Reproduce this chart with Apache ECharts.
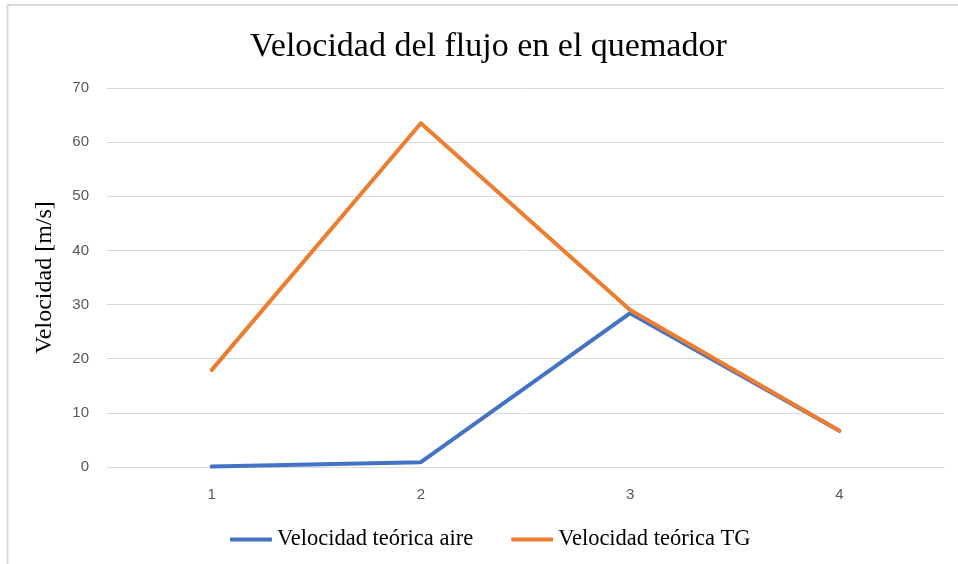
<!DOCTYPE html>
<html>
<head>
<meta charset="utf-8">
<script src="https://cdn.jsdelivr.net/npm/echarts@6/dist/echarts.min.js"></script>
<style>
html,body{margin:0;padding:0;background:#fff;}
#chart{width:958px;height:564px;}
</style>
</head>
<body>
<div id="chart"></div>
<script>
const categories = ['1', '2', '3', '4'];
const aire = [0.1, 0.9, 28.4, 6.7];
const tg = [17.9, 63.5, 29.0, 6.7];
const yTicks = [0, 10, 20, 30, 40, 50, 60, 70];

const chart = echarts.init(document.getElementById('chart'), null, {renderer: 'canvas'});
chart.setOption({
  animation: false,
  backgroundColor: '#fff',
  graphic: [
    {type: 'line', shape: {x1: 7.5, y1: 5, x2: 7.5, y2: 564}, style: {stroke: '#d9d9d9', lineWidth: 2}, silent: true},
    {type: 'line', shape: {x1: 7, y1: 5, x2: 958, y2: 5}, style: {stroke: '#d9d9d9', lineWidth: 2}, silent: true}
  ],
  title: {
    text: 'Velocidad del flujo en el quemador',
    left: 245,
    top: 25,
    textStyle: {fontFamily: 'Liberation Serif', fontWeight: 'normal', fontSize: 34, color: '#000'}
  },
  legend: {
    bottom: 8,
    left: 225,
    itemWidth: 42,
    itemHeight: 4,
    itemGap: 38,
    icon: 'roundRect',
    textStyle: {fontFamily: 'Liberation Serif', fontSize: 22.5, color: '#000', padding: [0,0,0,0]},
    data: ['Velocidad teórica aire', 'Velocidad teórica TG']
  },
  grid: {left: 107, right: 14, top: 88, bottom: 97},
  xAxis: {
    type: 'category',
    data: categories,
    boundaryGap: true,
    axisLine: {show: true, lineStyle: {color: '#d9d9d9', width: 1}},
    axisTick: {show: false},
    axisLabel: {color: '#595959', fontSize: 15, fontFamily: 'Liberation Sans', margin: 20}
  },
  yAxis: {
    type: 'value',
    min: yTicks[0],
    max: yTicks[yTicks.length - 1],
    interval: 10,
    name: 'Velocidad [m/s]',
    nameLocation: 'middle',
    nameGap: 50,
    nameTextStyle: {fontFamily: 'Liberation Serif', fontSize: 24, color: '#000'},
    axisLine: {show: false},
    axisTick: {show: false},
    splitLine: {lineStyle: {color: '#d9d9d9', width: 1}},
    axisLabel: {color: '#595959', fontSize: 15, fontFamily: 'Liberation Sans', margin: 18}
  },
  series: [
    {
      name: 'Velocidad teórica aire',
      type: 'line',
      data: aire,
      symbol: 'none',
      lineStyle: {color: '#4472C4', width: 4, cap: 'round', join: 'round'},
      itemStyle: {color: '#4472C4'}
    },
    {
      name: 'Velocidad teórica TG',
      type: 'line',
      data: tg,
      symbol: 'none',
      lineStyle: {color: '#ED7D31', width: 4, cap: 'round', join: 'round'},
      itemStyle: {color: '#ED7D31'}
    }
  ]
});
</script>
</body>
</html>
